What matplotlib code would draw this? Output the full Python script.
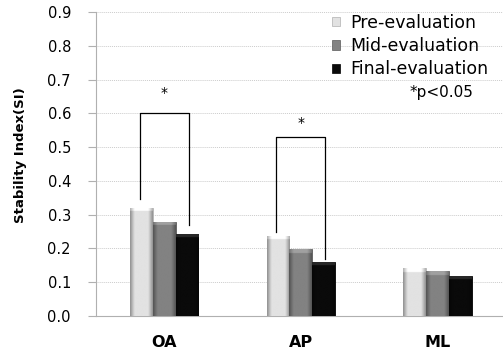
import matplotlib
matplotlib.use("Agg")
import matplotlib.pyplot as plt
import numpy as np
from matplotlib.colors import to_rgb

categories = ["OA", "AP", "ML"]
series_names = ["Pre-evaluation", "Mid-evaluation", "Final-evaluation"]
pre_vals = [0.32, 0.237, 0.141]
mid_vals = [0.279, 0.198, 0.132]
final_vals = [0.243, 0.160, 0.119]
yticks = [0.0, 0.1, 0.2, 0.3, 0.4, 0.5, 0.6, 0.7, 0.8, 0.9]
# significance brackets: (category index, top, left drop, right drop, star y)
brackets = [(0, 0.60, 0.346, 0.27, 0.66), (1, 0.53, 0.25, 0.17, 0.57)]

colors = ["#e2e2e2", "#828282", "#0a0a0a"]
edges = ["#b0b0b0", "#5a5a5a", "#000000"]

fig = plt.figure(figsize=(5.03, 3.5), dpi=100)
ax = fig.add_axes([96/503, 1-316/350, 1-96/503, (316-12)/350])

x = np.arange(len(categories))
w = 1/6
ax.set_xlim(-0.5, 2.48)
ax.set_ylim(0, 0.9)


def bevel(ax, patch, base):
    base = np.array(to_rgb(base))
    x0, y0 = patch.get_x(), patch.get_y()
    bw, bh = patch.get_width(), patch.get_height()
    nx, ny = 40, 200
    t = np.linspace(0, 1, nx)
    shade = 1 - 0.35 * np.clip(np.abs(t - 0.5) * 2 - 0.6, 0, 1) / 0.4
    img = base[None, None, :] * shade[None, :, None] * np.ones((ny, 1, 1))
    cap_px = 4
    cap_frac = cap_px / 33.8 * 0.1 / bh
    ncap = max(1, int(round(cap_frac * ny)))
    img[:ncap] = np.clip(img[:ncap] * 1.0 + 0.12, 0, 1)
    im = ax.imshow(img, extent=[x0, x0 + bw, y0, y0 + bh], aspect="auto",
                   interpolation="bilinear", zorder=3.5, origin="upper")
    im.set_clip_path(patch)


for i, (vals, c, e, name) in enumerate(zip([pre_vals, mid_vals, final_vals], colors, edges, series_names)):
    bars = ax.bar(x + (i-1)*w, vals, width=w, color=c, edgecolor=e, linewidth=0.6, label=name, zorder=3)
    for p in bars:
        bevel(ax, p, c)

for ci, top, ld, rd, sy in brackets:
    xl, xr = ci - 0.18, ci + 0.18
    ax.plot([xl, xl, xr, xr], [ld, top, top, rd], color="black", lw=0.9, zorder=4)
    ax.text(ci, sy, "*", ha="center", va="center", fontsize=10)

ax.set_xlim(-0.5, 2.48)
ax.set_ylim(0, 0.9)
ax.set_yticks(yticks)
ax.set_yticklabels([f"{t:.1f}" for t in yticks], fontsize=10.5)
ax.set_xticks(x)
ax.set_xticklabels(categories, fontsize=11.5, fontweight="bold")
ax.tick_params(axis="y", length=6, color="#b0b0b0", pad=12)
ax.tick_params(axis="x", length=0, pad=14)
ax.grid(axis="y", color="#cccccc", lw=0.7, ls=(0, (1, 1)), zorder=0)
for s in ["top", "right"]:
    ax.spines[s].set_visible(False)
for s in ["left", "bottom"]:
    ax.spines[s].set_color("#b0b0b0")
ax.set_ylabel("Stability Index(SI)", fontsize=9.5, fontweight="bold")
ax.yaxis.set_label_coords((27 - 96) / 407, (316 - 155) / 304)

leg = ax.legend(loc="upper left", bbox_to_anchor=(332/503, 1-14/350), bbox_transform=fig.transFigure,
                frameon=False, fontsize=12.5, handlelength=0.45, handleheight=0.45, handletextpad=0.6,
                labelspacing=0.3, borderpad=0, borderaxespad=0)
for h in leg.legend_handles:
    h.set_linewidth(0.5)
ax.text(473/503, 1-92/350, "*p<0.05", transform=fig.transFigure, ha="right", va="center", fontsize=11)

fig.savefig("out.png", dpi=100)
